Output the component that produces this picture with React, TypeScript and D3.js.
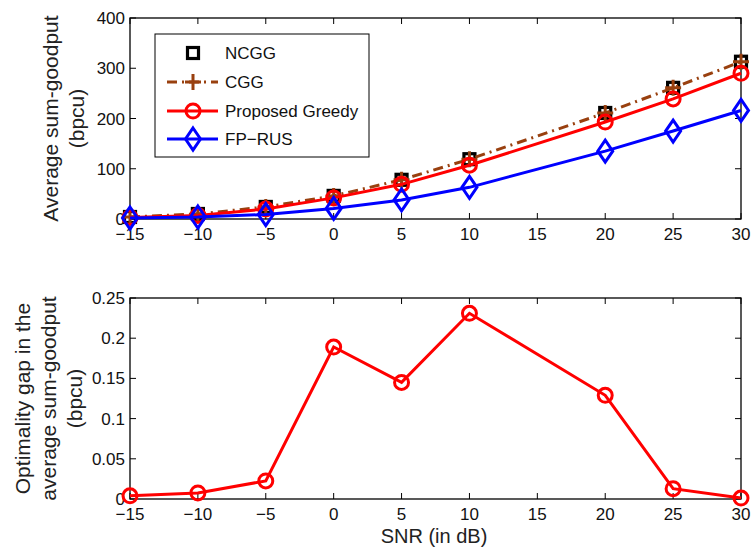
import React from "react";
import * as d3 from "d3";

const snr = [-15, -10, -5, 0, 5, 10, 20, 25, 30];
const ncgg = [4, 10, 24, 46, 78, 119, 211, 261, 313];
const cgg = [4, 10, 24, 46, 78, 119, 211, 261, 313];
const greedy = [3, 7, 20, 42, 69, 107, 193, 239, 290];
const fprus = [2, 4, 9, 21, 38, 63, 135, 175, 216];
const gap = [0.004, 0.0075, 0.0225, 0.189, 0.145, 0.231, 0.129, 0.0128, 0.0012];

const xTicks = [-15, -10, -5, 0, 5, 10, 15, 20, 25, 30];
const yTicksTop = [0, 100, 200, 300, 400];
const yTicksBot = [0, 0.05, 0.1, 0.15, 0.2, 0.25];
const legendLabels = ["NCGG", "CGG", "Proposed Greedy", "FP\u2212RUS"];

const FONT = "'Liberation Sans', Arial, Helvetica, sans-serif";
const BROWN = "#99400f";
const RED = "#ff0000";
const BLUE = "#0000ff";
const LW = 3;

const L = 130, R = 741;
const top1 = 18, bot1 = 219;
const top2 = 298, bot2 = 499;

const fmt = (v: number) => (v < 0 ? "\u2212" + Math.abs(v) : String(v));

function Diamond({ x, y }: { x: number; y: number }) {
  const w = 7.5, h = 11;
  return (
    <path
      d={`M${x},${y - h}L${x + w},${y}L${x},${y + h}L${x - w},${y}Z`}
      fill="none"
      stroke={BLUE}
      strokeWidth={LW}
    />
  );
}
function Square({ x, y }: { x: number; y: number }) {
  return <rect x={x - 5.5} y={y - 5.5} width={11} height={11} fill="none" stroke="#000" strokeWidth={3.2} />;
}
function Plus({ x, y }: { x: number; y: number }) {
  return (
    <path d={`M${x - 8},${y}H${x + 8}M${x},${y - 8}V${y + 8}`} stroke={BROWN} strokeWidth={LW} />
  );
}
function Circ({ x, y }: { x: number; y: number }) {
  return <circle cx={x} cy={y} r={7} fill="none" stroke={RED} strokeWidth={LW} />;
}

const xs = d3.scaleLinear().domain([-15, 30]).range([L, R]);

function Frame({ top, bot, y, yTicks }: any) {
  return (
    <g>
      <rect x={L} y={top} width={R - L} height={bot - top} fill="none" stroke="#000" strokeWidth={1.3} />
      {xTicks.map((t) => {
        const x = xs(t);
        return (
          <g key={t}>
            <line x1={x} x2={x} y1={bot} y2={bot - 6} stroke="#000" />
            <line x1={x} x2={x} y1={top} y2={top + 6} stroke="#000" />
            <text x={x} y={bot + 21} textAnchor="middle" fontSize={17} fontFamily={FONT} fill="#111">
              {fmt(t)}
            </text>
          </g>
        );
      })}
      {yTicks.map((t: number) => {
        const yy = y(t);
        return (
          <g key={t}>
            <line x1={L} x2={L + 6} y1={yy} y2={yy} stroke="#000" />
            <line x1={R} x2={R - 6} y1={yy} y2={yy} stroke="#000" />
            <text x={L - 5} y={yy + 6} textAnchor="end" fontSize={17} fontFamily={FONT} fill="#111">
              {String(t)}
            </text>
          </g>
        );
      })}
    </g>
  );
}

export default function App() {
  const y1 = d3.scaleLinear().domain([0, 400]).range([bot1, top1]);
  const y2 = d3.scaleLinear().domain([0, 0.25]).range([bot2, top2]);
  const line1 = (vals: number[]) =>
    d3.line<number>().x((_, i) => xs(snr[i])).y((v) => y1(v))(vals) as string;
  const line2 = d3.line<number>().x((_, i) => xs(snr[i])).y((v) => y2(v))(gap) as string;

  const legX = 155, legY = 34, legW = 214, legH = 123;
  const rowY = [53, 82, 111, 139];

  const labelStyle = { fontSize: 21, fontFamily: FONT, fill: "#222" } as const;

  return (
    <svg width={753} height={550} style={{ position: "absolute", left: 0, top: 0, background: "#fff" }}>
      <rect width={753} height={550} fill="#fff" />
      {/* Top plot */}
      <Frame top={top1} bot={bot1} y={y1} yTicks={yTicksTop} />
      {snr.map((s, i) => <Square key={"s" + i} x={xs(s)} y={y1(ncgg[i])} />)}
      <path d={line1(cgg)} fill="none" stroke={BROWN} strokeWidth={LW} strokeDasharray="10,5,2,5" />
      {snr.map((s, i) => <Plus key={"p" + i} x={xs(s)} y={y1(cgg[i])} />)}
      <path d={line1(greedy)} fill="none" stroke={RED} strokeWidth={LW} />
      {snr.map((s, i) => <Circ key={"c" + i} x={xs(s)} y={y1(greedy[i])} />)}
      <path d={line1(fprus)} fill="none" stroke={BLUE} strokeWidth={LW} />
      {snr.map((s, i) => <Diamond key={"d" + i} x={xs(s)} y={y1(fprus[i])} />)}

      {/* Legend */}
      <rect x={legX} y={legY} width={legW} height={legH} fill="#fff" stroke="#000" strokeWidth={1} />
      <Square x={193} y={rowY[0]} />
      <line x1={167} x2={218} y1={rowY[1]} y2={rowY[1]} stroke={BROWN} strokeWidth={LW} strokeDasharray="10,5,2,5" />
      <Plus x={193} y={rowY[1]} />
      <line x1={167} x2={218} y1={rowY[2]} y2={rowY[2]} stroke={RED} strokeWidth={LW} />
      <Circ x={193} y={rowY[2]} />
      <line x1={167} x2={218} y1={rowY[3]} y2={rowY[3]} stroke={BLUE} strokeWidth={LW} />
      <Diamond x={193} y={rowY[3]} />
      {legendLabels.map((l, i) => (
        <text key={l} x={225} y={rowY[i] + 6} fontSize={17} fontFamily={FONT} fill="#111">
          {l}
        </text>
      ))}

      <text transform={`translate(58,${(top1 + bot1) / 2}) rotate(-90)`} textAnchor="middle" {...labelStyle}>
        Average sum-goodput
      </text>
      <text transform={`translate(84,${(top1 + bot1) / 2}) rotate(-90)`} textAnchor="middle" {...labelStyle}>
        (bpcu)
      </text>

      {/* Bottom plot */}
      <Frame top={top2} bot={bot2} y={y2} yTicks={yTicksBot} />
      <path d={line2} fill="none" stroke={RED} strokeWidth={LW} />
      {snr.map((s, i) => <Circ key={"g" + i} x={xs(s)} y={y2(gap[i])} />)}

      <text transform={`translate(30,${(top2 + bot2) / 2}) rotate(-90)`} textAnchor="middle" {...labelStyle}>
        Optimality gap in the
      </text>
      <text transform={`translate(56,${(top2 + bot2) / 2}) rotate(-90)`} textAnchor="middle" {...labelStyle}>
        average sum-goodput
      </text>
      <text transform={`translate(82,${(top2 + bot2) / 2}) rotate(-90)`} textAnchor="middle" {...labelStyle}>
        (bpcu)
      </text>
      <text x={434} y={543} textAnchor="middle" fontSize={20} fontFamily={FONT} fill="#222">
        SNR (in dB)
      </text>
    </svg>
  );
}
